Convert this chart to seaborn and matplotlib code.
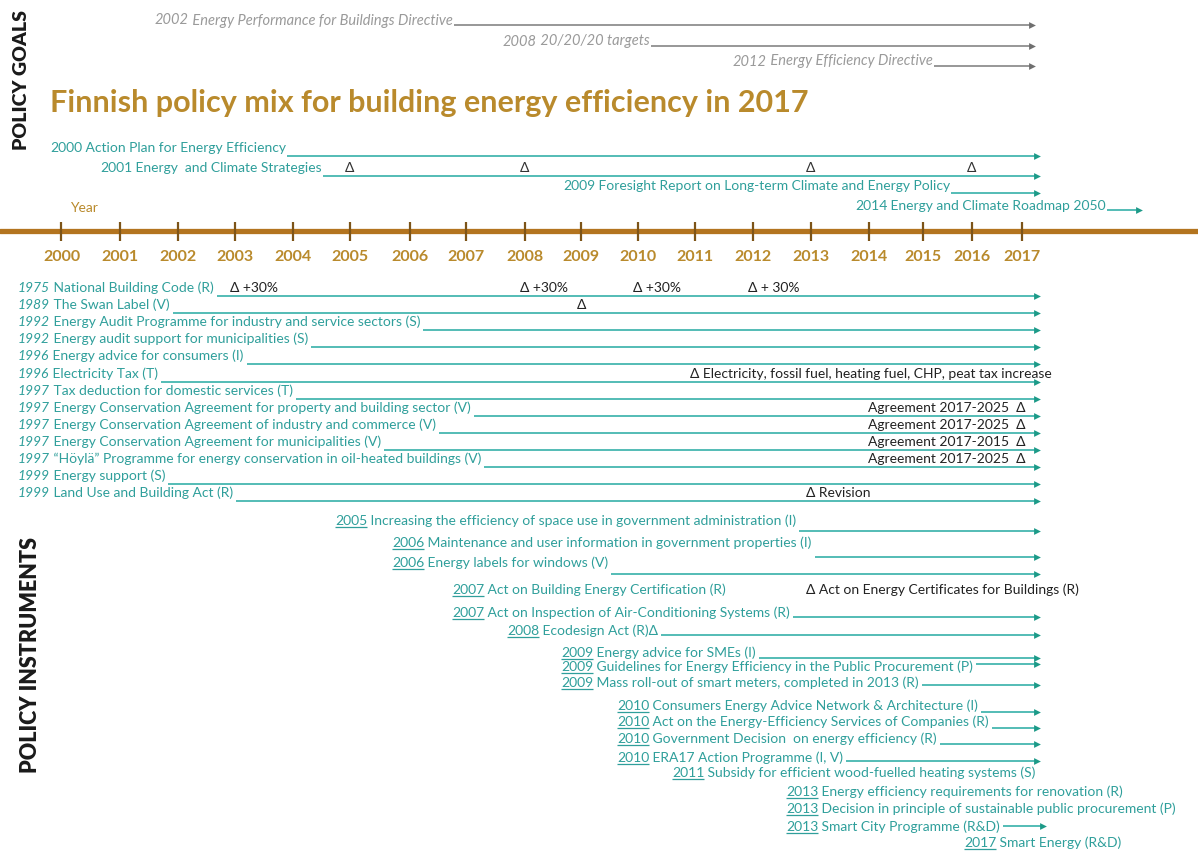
import numpy as np
import matplotlib
matplotlib.use("Agg")
import matplotlib.pyplot as plt
import seaborn as sns
import pandas as pd

# ---------------- DATA ----------------
axis_years = list(range(2000, 2018))

eu_goal_years = [2002, 2008, 2012]
eu_goal_names = ["Energy Performance for Buildings Directive", "20/20/20 targets",
                 "Energy Efficiency Directive"]

fi_goal_years = [2000, 2001, 2009, 2014]
fi_goal_names = ["Action Plan for Energy Efficiency", "Energy  and Climate Strategies",
                 "Foresight Report on Long-term Climate and Energy Policy",
                 "Energy and Climate Roadmap 2050"]
strategy_update_years = [2005, 2008, 2013, 2016]

instr_years = [1975, 1989, 1992, 1992, 1996, 1996, 1997, 1997, 1997, 1997, 1997, 1999, 1999,
               2005, 2006, 2006, 2007, 2007, 2008, 2009, 2009, 2009, 2010, 2010, 2010, 2010,
               2011, 2013, 2013, 2013, 2017]
instr_names = [
    "National Building Code (R)", "The Swan Label (V)",
    "Energy Audit Programme for industry and service sectors (S)",
    "Energy audit support for municipalities (S)", "Energy advice for consumers (I)",
    "Electricity Tax (T)", "Tax deduction for domestic services (T)",
    "Energy Conservation Agreement for property and building sector (V)",
    "Energy Conservation Agreement of industry and commerce (V)",
    "Energy Conservation Agreement for municipalities (V)",
    "\u201cHöylä\u201d Programme for energy conservation in oil-heated buildings (V)",
    "Energy support (S)", "Land Use and Building Act (R)",
    "Increasing the efficiency of space use in government administration (I)",
    "Maintenance and user information in government properties (I)",
    "Energy labels for windows (V)",
    "Act on Building Energy Certification (R)",
    "Act on Inspection of Air-Conditioning Systems (R)",
    "Ecodesign Act (R)\u0394",
    "Energy advice for SMEs (I)",
    "Guidelines for Energy Efficiency in the Public Procurement (P)",
    "Mass roll-out of smart meters, completed in 2013 (R)",
    "Consumers Energy Advice Network & Architecture (I)",
    "Act on the Energy-Efficiency Services of Companies (R)",
    "Government Decision  on energy efficiency (R)",
    "ERA17 Action Programme (I, V)",
    "Subsidy for efficient wood-fuelled heating systems (S)",
    "Energy efficiency requirements for renovation (R)",
    "Decision in principle of sustainable public procurement (P)",
    "Smart City Programme (R&D)",
    "Smart Energy (R&D)"]
instr_ongoing = [1] * 13 + [1, 1, 1, 0, 1, 1, 1, 1, 1, 1, 1, 1, 1, 0, 0, 0, 1, 0]

note_rows = [0, 0, 0, 0, 1, 5, 7, 8, 9, 10, 12, 16]
note_years = [2003, 2008, 2010, 2012, 2009, 2011, 2017, 2017, 2017, 2017, 2013, 2013]
note_texts = ["\u0394 +30%", "\u0394 +30%", "\u0394 +30%", "\u0394 + 30%", "\u0394",
              "\u0394 Electricity, fossil fuel, heating fuel, CHP, peat tax increase",
              "Agreement 2017-2025  \u0394", "Agreement 2017-2025  \u0394",
              "Agreement 2017-2015  \u0394", "Agreement 2017-2025  \u0394",
              "\u0394 Revision", "\u0394 Act on Energy Certificates for Buildings (R)"]

title = "Finnish policy mix for building energy efficiency in 2017"

# ---------------- LAYOUT / STYLE ----------------
W, H = 1198, 851
TICK_PX = [61.5, 120, 178, 235, 293, 350, 410, 466, 525, 581, 638, 695, 753, 811, 869, 923, 972, 1022]
TEAL_TXT = "#2f9f9b"
TEAL_LINE = "#45b6b0"
TEAL_HEAD = "#1d9a88"
GREY_TXT = "#9a9a9a"
GREY_LINE = "#8f8f8f"
GOLD = "#b98a2c"
BROWN = "#b3741f"
TICK_C = "#7d5418"
FS = 10

eu_x = [155, 503, 733]
eu_y = [24.5, 45.5, 65.5]
fi_x = [50, 100, 563, 855]
fi_text_y = [151.5, 171.5, 190.5, 210.5]
fi_line_y = [156, 176, 193, 210]
fi_end = [0.3, 0.3, 0.3, 2.35]  # overhang beyond 2017 (years)

up_center = 288 + 17.1 * np.arange(13)
low_center = [521, 543, 563, 590, 613, 631, 653, 667, 683, 706, 722, 739, 758, 773, 792, 809, 827, 843]
row_center = list(up_center) + low_center
row_line = list(up_center + 8) + [531, 557, 574, None, 617, 635, 658, 664, 685, 712, 728, 744,
                                  761, None, None, None, 826, None]
row_x = [18] * 13 + [335, 392, 392, 452, 452, 507, 561, 561, 561, 617, 617, 617, 617, 672,
                     786, 786, 786, 964]
row_end = [0.3] * 29 + [0.42, 0.3]

TY = np.array(axis_years, float)
TP = np.array(TICK_PX, float)


def yr2px(v):
    v = np.asarray(v, float)
    out = np.interp(v, TY, TP)
    out = np.where(v < TY[0], TP[0] + (v - TY[0]) * (TP[1] - TP[0]), out)
    out = np.where(v > TY[-1], TP[-1] + (v - TY[-1]) * (TP[-1] - TP[-2]), out)
    return out


def px2yr(p):
    p = np.asarray(p, float)
    out = np.interp(p, TP, TY)
    out = np.where(p < TP[0], TY[0] + (p - TP[0]) / (TP[1] - TP[0]), out)
    out = np.where(p > TP[-1], TY[-1] + (p - TP[-1]) / (TP[-1] - TP[-2]), out)
    return out


sns.set_theme(style="white")
plt.rcParams["font.family"] = ["Lato", "DejaVu Sans"]

fig = plt.figure(figsize=(W / 100, H / 100), dpi=100)
ax = fig.add_axes([0, 0, 1, 1])
ax.set_xscale("function", functions=(yr2px, px2yr))
ax.set_xlim(float(px2yr(0)), float(px2yr(W)))
ax.set_ylim(H, 0)
ax.axis("off")
renderer = fig.canvas.get_renderer()


def disp2yr(xd):
    return ax.transData.inverted().transform([[xd, 0]])[0, 0]


def label(x_px, y_base, year, name, color, year_style="plain", italic=False, fs=FS):
    x0 = float(px2yr(x_px))
    st = "italic" if (italic or year_style == "italic") else "normal"
    t1 = ax.text(x0, y_base, str(year), color=color, fontsize=fs, style=st, va="baseline", ha="left")
    b1 = t1.get_window_extent(renderer)
    if year_style == "underline":
        ax.hlines(y_base + 2, x0, disp2yr(b1.x1), color=color, lw=0.9)
    t2 = ax.text(disp2yr(b1.x1), y_base, " " + name, color=color, fontsize=fs,
                 style="italic" if italic else "normal", va="baseline", ha="left")
    return t2.get_window_extent(renderer).x1


def arrow(x_disp_start, end_year, y, lc, hc):
    xs = disp2yr(x_disp_start + 1)
    ax.hlines(y, xs, end_year, color=lc, lw=1.3, zorder=2)
    ax.scatter([end_year], [y], marker=">", s=24, color=hc, zorder=3, linewidths=0)


# side labels
ax.text(float(px2yr(22)), 80, "POLICY GOALS", rotation=90, fontsize=14, fontweight="heavy",
        color="#1a1a1a", ha="center", va="center")
ax.text(float(px2yr(30)), 655, "POLICY INSTRUMENTS", rotation=90, fontsize=15.5, fontweight="heavy",
        color="#1a1a1a", ha="center", va="center")

# EU goals (grey)
for yr, nm, xp, yb in zip(eu_goal_years, eu_goal_names, eu_x, eu_y):
    xe = label(xp, yb, yr, nm, GREY_TXT, italic=True, fs=10.5)
    arrow(xe, 2017 + 0.2, yb + 0.5, GREY_LINE, "#6f6f6f")

# title
ax.text(float(px2yr(50)), 103, title, fontsize=22, fontweight="bold", color=GOLD, ha="left", va="center")

# Finnish goals
for yr, nm, xp, ty, ly, ov in zip(fi_goal_years, fi_goal_names, fi_x, fi_text_y, fi_line_y, fi_end):
    xe = label(xp, ty, yr, nm, TEAL_TXT)
    arrow(xe, 2017 + ov, ly, TEAL_LINE, TEAL_HEAD)
for yr in strategy_update_years:
    ax.text(yr, 168, "\u0394", fontsize=FS, color="#333333", ha="center", va="center")

# timeline
ax.text(float(px2yr(70)), 208, "Year", fontsize=10, color=GOLD, ha="left", va="center")
tl = pd.DataFrame({"x": [float(px2yr(0)), float(px2yr(W))], "y": [231, 231]})
sns.lineplot(data=tl, x="x", y="y", ax=ax, color=BROWN, lw=3.8, legend=False)
ax.vlines(axis_years, 222, 241, color=TICK_C, lw=1.6)
for yr in axis_years:
    ax.text(yr, 257, str(yr), fontsize=11.5, fontweight="bold", color=GOLD, ha="center", va="center")
ax.set_xlim(float(px2yr(0)), float(px2yr(W)))
ax.set_ylim(H, 0)
ax.set_xlabel("")
ax.set_ylabel("")

# instruments
for i, (yr, nm) in enumerate(zip(instr_years, instr_names)):
    style = "italic" if yr < 2000 else "underline"
    xe = label(row_x[i], row_center[i] + 4, yr, nm, TEAL_TXT, year_style=style)
    if instr_ongoing[i] and row_line[i] is not None:
        arrow(xe + 2, 2017 + row_end[i], row_line[i], TEAL_LINE, TEAL_HEAD)

# change notes
for r, yr, txt in zip(note_rows, note_years, note_texts):
    if txt.startswith("Agreement"):
        ax.text(yr + 0.08, row_center[r], txt, fontsize=FS, color="#222222", ha="right", va="center")
    else:
        ax.text(yr - 0.08, row_center[r], txt, fontsize=FS, color="#222222", ha="left", va="center")

fig.savefig("out.png", dpi=100)
